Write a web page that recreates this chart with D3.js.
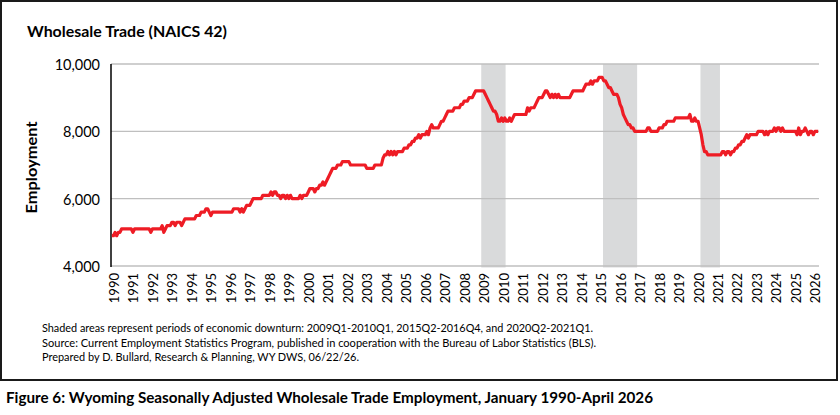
<!DOCTYPE html>
<html>
<head>
<meta charset="utf-8">
<script src="https://cdn.jsdelivr.net/npm/d3@7"></script>
<style>
  html, body { margin: 0; padding: 0; background: #fff; }
  svg { display: block; }
  text { font-family: Lato, "Open Sans", sans-serif; fill: #000; }
</style>
</head>
<body>
<svg id="chart" width="840" height="415"></svg>
<script>
// ---- Data ----
const startYear = 1990;
// Monthly seasonally adjusted employment, Jan 1990 - Apr 2026
const employment = [
  4900, 4900, 5000, 4900, 5000, 5000, 5100, 5100, 5100, 5100, 5100, 5100, // 1990
  5100, 5000, 5100, 5100, 5100, 5100, 5100, 5100, 5100, 5100, 5100, 5100, // 1991
  5000, 5100, 5100, 5100, 5100, 5100, 5100, 5200, 5000, 5100, 5200, 5200, // 1992
  5200, 5300, 5300, 5200, 5300, 5300, 5300, 5200, 5300, 5400, 5400, 5400, // 1993
  5400, 5400, 5400, 5400, 5500, 5500, 5500, 5600, 5600, 5600, 5700, 5700, // 1994
  5600, 5500, 5600, 5600, 5600, 5600, 5600, 5600, 5600, 5600, 5600, 5600, // 1995
  5600, 5600, 5600, 5700, 5700, 5700, 5700, 5600, 5700, 5600, 5700, 5800, // 1996
  5800, 5800, 5900, 6000, 6000, 6000, 6000, 6000, 6000, 6100, 6100, 6100, // 1997
  6100, 6100, 6200, 6100, 6200, 6200, 6100, 6100, 6000, 6100, 6100, 6000, // 1998
  6100, 6000, 6100, 6000, 6000, 6000, 6000, 6000, 6100, 6000, 6100, 6100, // 1999
  6100, 6200, 6300, 6300, 6300, 6200, 6300, 6300, 6400, 6400, 6500, 6400, // 2000
  6500, 6600, 6700, 6800, 6900, 6900, 6900, 7000, 7000, 7000, 7100, 7100, // 2001
  7100, 7100, 7100, 7000, 7000, 7000, 7000, 7000, 7000, 7000, 7000, 7000, // 2002
  7000, 6900, 6900, 6900, 6900, 6900, 7000, 7000, 7000, 7000, 7000, 7200, // 2003
  7300, 7300, 7400, 7300, 7400, 7300, 7400, 7300, 7400, 7400, 7400, 7400, // 2004
  7500, 7500, 7500, 7600, 7600, 7700, 7700, 7800, 7800, 7900, 7800, 7900, // 2005
  7900, 7900, 8000, 7900, 8100, 8200, 8100, 8100, 8100, 8100, 8200, 8300, // 2006
  8300, 8400, 8500, 8600, 8600, 8600, 8600, 8700, 8700, 8700, 8700, 8800, // 2007
  8800, 8900, 8900, 8900, 9000, 9000, 9000, 9100, 9200, 9200, 9200, 9200, // 2008
  9200, 9200, 9100, 9000, 8900, 8800, 8700, 8600, 8600, 8500, 8300, 8300, // 2009
  8400, 8300, 8400, 8300, 8300, 8400, 8300, 8400, 8500, 8500, 8500, 8500, // 2010
  8500, 8500, 8500, 8500, 8700, 8600, 8700, 8700, 8700, 8800, 8900, 9000, // 2011
  9000, 9000, 9100, 9200, 9200, 9100, 9000, 9100, 9000, 9100, 9000, 9100, // 2012
  9000, 9000, 9000, 9000, 9000, 9000, 9000, 9100, 9200, 9200, 9200, 9200, // 2013
  9200, 9200, 9200, 9300, 9400, 9400, 9400, 9500, 9400, 9500, 9500, 9500, // 2014
  9600, 9600, 9600, 9500, 9500, 9400, 9300, 9300, 9200, 9100, 9100, 9100, // 2015
  9000, 8800, 8700, 8500, 8400, 8300, 8200, 8200, 8100, 8100, 8000, 8000, // 2016
  8000, 8000, 8000, 8000, 8000, 8000, 8100, 8100, 8000, 8000, 8000, 8000, // 2017
  8000, 8100, 8100, 8100, 8200, 8200, 8300, 8300, 8300, 8300, 8300, 8400, // 2018
  8400, 8400, 8400, 8400, 8400, 8400, 8400, 8400, 8500, 8300, 8300, 8400, // 2019
  8300, 8300, 8100, 7900, 7600, 7400, 7400, 7300, 7300, 7300, 7300, 7300, // 2020
  7300, 7300, 7300, 7300, 7400, 7400, 7300, 7400, 7400, 7300, 7400, 7400, // 2021
  7500, 7500, 7600, 7600, 7700, 7700, 7800, 7900, 7800, 7900, 7900, 7900, // 2022
  7900, 7900, 8000, 8000, 8000, 8000, 7900, 8000, 7900, 8000, 8000, 8000, // 2023
  8100, 8000, 8100, 8100, 8000, 8100, 8000, 8000, 8000, 8000, 8000, 8000, // 2024
  8000, 8000, 7900, 8100, 7900, 8000, 8000, 8100, 8000, 7900, 8000, 8000, // 2025
  7900, 8000, 8000, 8000                                                  // 2026
];
const yearLabels = ["1990","1991","1992","1993","1994","1995","1996","1997","1998","1999",
  "2000","2001","2002","2003","2004","2005","2006","2007","2008","2009","2010","2011",
  "2012","2013","2014","2015","2016","2017","2018","2019","2020","2021","2022","2023",
  "2024","2025","2026"];
const yTicks = [4000, 6000, 8000, 10000];
const recessions = [["2009Q1", "2010Q1"], ["2015Q2", "2016Q4"], ["2020Q2", "2021Q1"]];

const chartTitle = "Wholesale Trade (NAICS 42)";
const yAxisTitle = "Employment";
const notes = [
  "Shaded areas represent periods of economic downturn: 2009Q1-2010Q1, 2015Q2-2016Q4, and 2020Q2-2021Q1.",
  "Source: Current Employment Statistics Program, published in cooperation with the Bureau of Labor Statistics (BLS).",
  "Prepared by D. Bullard, Research & Planning, WY DWS, 06/22/26."
];
const noteWidths = [551, 554, 317];
const caption = "Figure 6: Wyoming Seasonally Adjusted Wholesale Trade Employment, January 1990-April 2026";

// ---- Layout ----
const svg = d3.select("#chart");
const plot = { left: 111, right: 819, top: 64, bottom: 266 };

const x = d3.scaleLinear().domain([0, employment.length]).range([plot.left, plot.right]);
const y = d3.scaleLinear().domain([4000, 10000]).range([plot.bottom, plot.top]);

const qMonth = q => (+q.slice(0, 4) - startYear) * 12 + (+q.slice(5) - 1) * 3;

// frame
svg.append("rect").attr("x", 1).attr("y", 1).attr("width", 836).attr("height", 379)
  .attr("fill", "#fff").attr("stroke", "#1a1a1a").attr("stroke-width", 2);

// recession shading
svg.append("g").selectAll("rect").data(recessions).join("rect")
  .attr("x", d => x(qMonth(d[0])))
  .attr("width", d => x(qMonth(d[1]) + 3) - x(qMonth(d[0])))
  .attr("y", y(10000))
  .attr("height", y(4000) - y(10000) + 1.5)
  .attr("fill", "#d9dadb");

// gridlines
svg.append("g").selectAll("line").data(yTicks).join("line")
  .attr("x1", plot.left).attr("x2", plot.right)
  .attr("y1", d => y(d)).attr("y2", d => y(d))
  .attr("stroke", "#bfbfbf").attr("stroke-width", 1.3);

// y axis line
svg.append("line").attr("x1", plot.left).attr("x2", plot.left)
  .attr("y1", y(10000)).attr("y2", y(4000) + 1)
  .attr("stroke", "#000").attr("stroke-width", 1.5);

// y tick labels
svg.append("g").selectAll("text").data(yTicks).join("text")
  .attr("x", 100).attr("y", d => y(d)).attr("dy", "0.42em")
  .attr("text-anchor", "end").attr("font-size", 14.5)
  .text(d => d3.format(",")(d));

// x tick labels (rotated)
svg.append("g").selectAll("text").data(yearLabels).join("text")
  .attr("transform", (d, i) => `translate(${x(i * 12 + 2)},273) rotate(-90)`)
  .attr("dy", "0.36em").attr("text-anchor", "end").attr("font-size", 13)
  .text(d => d);

// line
const line = d3.line().x((d, i) => x(i + 0.5)).y(d => y(d)).curve(d3.curveLinear);
svg.append("path").datum(employment).attr("d", line)
  .attr("fill", "none").attr("stroke", "#ee1c25").attr("stroke-width", 3.2)
  .attr("stroke-linejoin", "round");

// titles
svg.append("text").attr("x", 27).attr("y", 37).attr("font-size", 16)
  .attr("font-weight", "bold")
  .attr("textLength", 200).attr("lengthAdjust", "spacingAndGlyphs")
  .text(chartTitle);

svg.append("text").attr("transform", `translate(37,167.5) rotate(-90)`)
  .attr("x", -46).attr("font-size", 16).attr("font-weight", "bold")
  .attr("textLength", 92).attr("lengthAdjust", "spacingAndGlyphs")
  .text(yAxisTitle);

svg.append("g").selectAll("text").data(notes).join("text")
  .attr("x", 42).attr("y", (d, i) => 332 + i * 14.5).attr("font-size", 11)
  .attr("textLength", (d, i) => noteWidths[i]).attr("lengthAdjust", "spacingAndGlyphs")
  .text(d => d);

svg.append("text").attr("x", 6).attr("y", 403).attr("font-size", 15.5)
  .attr("font-weight", "bold")
  .attr("textLength", 647).attr("lengthAdjust", "spacingAndGlyphs")
  .text(caption);
</script>
</body>
</html>
